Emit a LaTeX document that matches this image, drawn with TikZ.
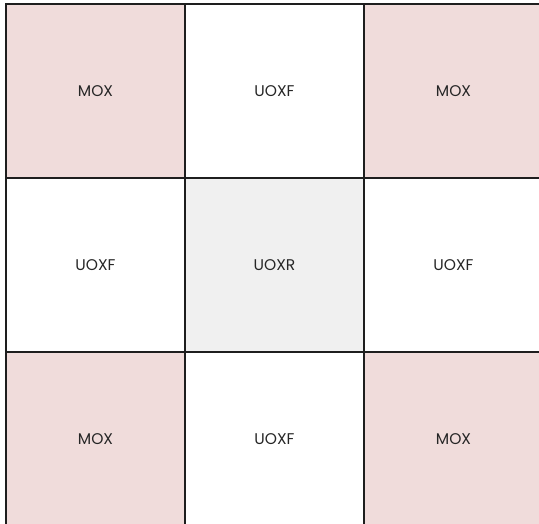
\documentclass[tikz,border=0pt]{standalone}
\usepackage{fontspec}
\setmainfont{Poppins}
\usepackage{tikz}
\usepackage{xcolor}
\usetikzlibrary{positioning}
\definecolor{moxPink}{HTML}{F0DCDB}
\definecolor{uoxrGray}{HTML}{F0F0F0}
\definecolor{gridLine}{HTML}{1E1E1E}

\begin{document}
\begin{tikzpicture}[x=1bp, y=1bp, node distance=0bp,
    cell/.style={draw=gridLine, line width=1.4bp, minimum width=179bp,
                 minimum height=174bp, inner sep=0pt, outer sep=0pt,
                 font=\fontsize{15.5bp}{17bp}\selectfont, text=black!85},
    mox/.style={cell, fill=moxPink},
    uoxf/.style={cell, fill=white},
    uoxr/.style={cell, fill=uoxrGray}]
  \useasboundingbox (0,0) rectangle (539,524);
  % top row
  \node[mox] (nw) at (95.5,433) {MOX};
  \node[uoxf, right=of nw] (n) {UOXF};
  \node[mox, right=of n] (ne) {MOX};
  % middle row
  \node[uoxf, below=of nw] (w) {UOXF};
  \node[uoxr, right=of w] (c) {UOXR};
  \node[uoxf, right=of c] (e) {UOXF};
  % bottom row
  \node[mox, below=of w] (sw) {MOX};
  \node[uoxf, right=of sw] (s) {UOXF};
  \node[mox, right=of s] (se) {MOX};
\end{tikzpicture}
\end{document}
